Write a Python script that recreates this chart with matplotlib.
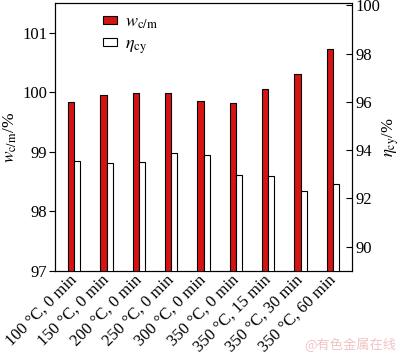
import matplotlib
matplotlib.use("Agg")
import matplotlib.pyplot as plt
import numpy as np
from matplotlib.patches import Patch

plt.rcParams['font.family'] = ['Liberation Serif', 'DejaVu Serif']
plt.rcParams['mathtext.fontset'] = 'stix'

categories = ["100 °C, 0 min", "150 °C, 0 min", "200 °C, 0 min", "250 °C, 0 min",
              "300 °C, 0 min", "350 °C, 0 min", "350 °C, 15 min", "350 °C, 30 min",
              "350 °C, 60 min"]
w_cm = [99.83, 99.95, 99.99, 99.99, 99.86, 99.82, 100.05, 100.31, 100.73]
eta_cy = [93.53, 93.46, 93.50, 93.87, 93.78, 92.95, 92.94, 92.32, 92.59]

RED = '#d71414'

fig = plt.figure(figsize=(4.0, 3.55), dpi=100)
ax = fig.add_axes([0.137, 0.237, 0.744, 0.755])
ax2 = ax.twinx()

x = np.arange(len(categories))
bw = 0.19
ax.bar(x - bw / 2, w_cm, bw, color=RED, edgecolor='black', linewidth=0.8, zorder=3)
ax2.bar(x + bw / 2, eta_cy, bw, color='white', edgecolor='black', linewidth=0.8, zorder=3)

ax.set_xlim(-0.6, 8.6)
ax.set_ylim(97, 101.5)
ax2.set_ylim(89, 100.1)
ax.set_yticks([97, 98, 99, 100, 101])
ax2.set_yticks([90, 92, 94, 96, 98, 100])

ax.set_xticks(x)
ax.set_xticklabels(categories, rotation=45, ha='right', va='center',
                   rotation_mode='anchor', fontsize=12)
ax.tick_params(axis='x', length=0, pad=5)
ax.tick_params(axis='y', direction='out', length=4, pad=1.5, labelsize=12, width=0.8)
ax2.tick_params(axis='y', direction='in', length=4.5, pad=2, labelsize=12, width=0.8)

for a in (ax, ax2):
    for s in a.spines.values():
        s.set_linewidth(0.8)

ax.set_ylabel(r'$w_{\rm c/m}$/%', fontsize=12.5, labelpad=2.5)
ax2.set_ylabel(r'$\eta_{\rm cy}$/%', fontsize=12, labelpad=0)

handles = [Patch(facecolor=RED, edgecolor='black', linewidth=0.8),
           Patch(facecolor='white', edgecolor='black', linewidth=0.8)]
ax.legend(handles, [r'$w_{\rm c/m}$', r'$\eta_{\rm cy}$'], loc='upper left',
          bbox_to_anchor=(0.163, 0.96), frameon=False, fontsize=13,
          borderpad=0, borderaxespad=0,
          handlelength=0.75, handleheight=0.35, handletextpad=0.45, labelspacing=0.25)

fig.text(0.99, 0.027, '@有色金属在线', ha='right', va='center', fontsize=9.5,
         color='#f2c4c4', family=['Noto Sans CJK SC', 'DejaVu Sans'])

fig.savefig('out.png', dpi=100)
